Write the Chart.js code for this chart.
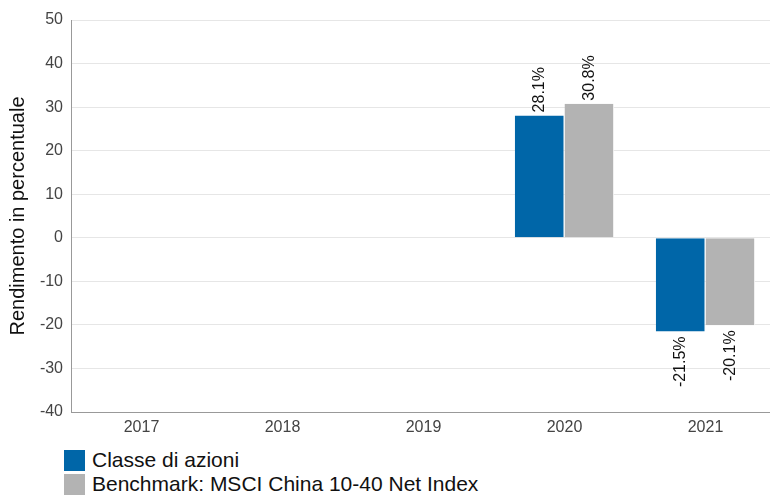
<!DOCTYPE html>
<html><head><meta charset="utf-8">
<script src="https://cdn.jsdelivr.net/npm/chart.js@4"></script>
<style>
html,body{margin:0;padding:0;background:#fff;font-family:"Liberation Sans",Arial,sans-serif;overflow:hidden;}
#wrap{width:770px;height:440px;position:relative;overflow:hidden;}
#legend{position:absolute;left:64px;top:448px;}
.item{display:flex;align-items:center;height:24px;font-size:21px;color:#111;}
.box{width:21px;height:21px;margin-right:7px;}
</style></head><body>
<div id="wrap"><canvas id="c" width="776" height="440"></canvas></div>
<div id="legend"></div>
<script>
const categories = ["2017","2018","2019","2020","2021"];
const seriesNames = ["Classe di azioni","Benchmark: MSCI China 10-40 Net Index"];
const classeValues = [null,null,null,28.1,-21.5];
const benchmarkValues = [null,null,null,30.8,-20.1];
const yTicks = [-40,-30,-20,-10,0,10,20,30,40,50];
const colors = ["#0066a8","#b3b3b3"];
const FONT = '"Liberation Sans", Arial, sans-serif';

const labelPlugin = {
  id:'vlabels',
  afterDatasetsDraw(chart){
    const ctx = chart.ctx;
    ctx.save();
    ctx.font = '16px ' + FONT;
    ctx.fillStyle = '#111';
    ctx.textBaseline = 'middle';
    chart.data.datasets.forEach((ds,i)=>{
      const meta = chart.getDatasetMeta(i);
      meta.data.forEach((bar,j)=>{
        const v = ds.data[j];
        if(v===null||v===undefined) return;
        const txt = v.toFixed(1)+'%';
        ctx.save();
        if(v>=0){
          ctx.translate(bar.x, bar.y-3);
          ctx.rotate(-Math.PI/2);
          ctx.textAlign='left';
        } else {
          ctx.translate(bar.x, bar.y+5);
          ctx.rotate(-Math.PI/2);
          ctx.textAlign='right';
        }
        ctx.fillText(txt,0,0);
        ctx.restore();
      });
    });
    ctx.restore();
  }
};

new Chart(document.getElementById('c'),{
  type:'bar',
  data:{labels:categories,datasets:[
    {label:seriesNames[0],data:classeValues,backgroundColor:colors[0],borderColor:'#ffffff',borderWidth:{left:0,right:1,top:0,bottom:0}},
    {label:seriesNames[1],data:benchmarkValues,backgroundColor:colors[1],borderColor:'#ffffff',borderWidth:{left:0,right:1,top:0,bottom:0}}
  ]},
  options:{
    responsive:false,animation:false,
    layout:{padding:{top:20,right:0,left:0,bottom:0}},
    plugins:{legend:{display:false},tooltip:{enabled:false}},
    datasets:{bar:{categoryPercentage:0.705,barPercentage:1}},
    scales:{
      x:{
        grid:{display:false,drawTicks:false},
        border:{display:true,color:'#999999'},
        ticks:{color:'#444',font:{size:16,family:FONT},padding:6},
        afterFit(s){s.height=28;}
      },
      y:{
        min:yTicks[0],max:yTicks[yTicks.length-1],
        afterBuildTicks(s){s.ticks=yTicks.map(v=>({value:v}));},
        grid:{color:'#e6e6e6',drawTicks:false},
        border:{display:true,color:'#999999'},
        ticks:{color:'#444',font:{size:16,family:FONT},padding:8},
        title:{display:true,text:'Rendimento in percentuale',color:'#111',font:{size:20,family:FONT},padding:{top:6,bottom:4}},
        afterFit(s){s.width=71;}
      }
    }
  },
  plugins:[labelPlugin]
});

const lg=document.getElementById('legend');
seriesNames.forEach((n,i)=>{
  const d=document.createElement('div');d.className='item';
  const b=document.createElement('span');b.className='box';b.style.background=colors[i];
  const t=document.createElement('span');t.textContent=n;
  d.appendChild(b);d.appendChild(t);lg.appendChild(d);
});
</script>
</body></html>
